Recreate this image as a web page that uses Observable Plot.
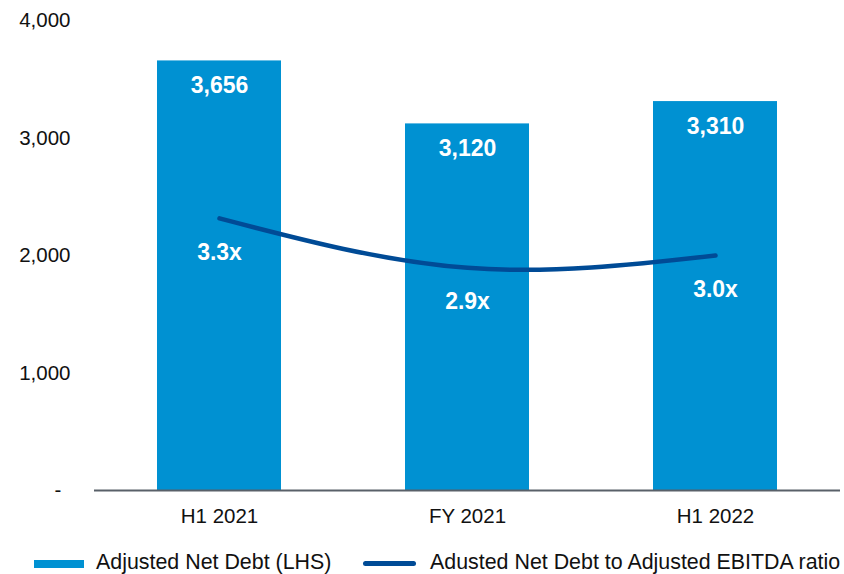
<!DOCTYPE html>
<html>
<head>
<meta charset="utf-8">
<script src="https://cdn.jsdelivr.net/npm/d3@7"></script>
<script src="https://cdn.jsdelivr.net/npm/@observablehq/plot@0.6"></script>
<style>
  body { margin: 0; background: #fff; font-family: "Liberation Sans", Arial, sans-serif; }
  #wrap { position: relative; width: 844px; height: 574px; overflow: hidden; }
  #legend { position: absolute; left: 0; top: 548px; width: 844px; height: 26px; font-size: 21.4px; color: #111; }
  .sw { position: absolute; }
  .lt { position: absolute; top: 2px; white-space: nowrap; }
</style>
</head>
<body>
<div id="wrap">
  <div id="chart"></div>
  <div id="legend">
    <div class="sw" style="left:34px;top:12px;width:50px;height:8px;background:#0091D2"></div>
    <div class="lt" style="left:96px">Adjusted Net Debt (LHS)</div>
    <div class="sw" style="left:363px;top:13px;width:53px;height:5px;border-radius:3px;background:#004B96"></div>
    <div class="lt" style="left:430px">Adusted Net Debt to Adjusted EBITDA ratio</div>
  </div>
</div>
<script>
const categories = ["H1 2021", "FY 2021", "H1 2022"];
const netDebt = [3656, 3120, 3310];
const ratio = [3.3, 2.9, 3.0];
const yTicks = [1000, 2000, 3000, 4000];

// secondary (hidden) ratio axis mapped onto the LHS scale
const ratioToLhs = d3.scaleLinear().domain([1.1, 4.9]).range([0, 4000]);

const bars = categories.map((c, i) => ({cat: c, value: netDebt[i]}));
const line = categories.map((c, i) => ({cat: c, ratio: ratio[i], y: ratioToLhs(ratio[i])}));

const font = `"Liberation Sans", Arial, sans-serif`;

const chart = Plot.plot({
  width: 844,
  height: 540,
  marginLeft: 94,
  marginRight: 4,
  marginTop: 20,
  marginBottom: 50,
  style: {fontFamily: font, fontSize: "20.5px", color: "#111", background: "#fff"},
  x: {domain: categories, paddingInner: 0.5, paddingOuter: 0.25, label: null},
  y: {domain: [0, 4000], label: null},
  marks: [
    Plot.axisY(yTicks, {tickSize: 0, tickPadding: 24, tickFormat: d3.format(","), fontSize: 20.5, label: null}),
    Plot.text([0], {y: d => d, frameAnchor: "left", dx: -40, text: () => "-", fontSize: 20.5, fill: "#111"}),
    Plot.axisX({tickSize: 0, tickPadding: 18, fontSize: 20.5, label: null}),
    Plot.barY(bars, {x: "cat", y: "value", fill: "#0091D2"}),
    Plot.ruleY([0], {stroke: "#596069", strokeWidth: 2}),
    Plot.text(bars, {x: "cat", y: "value", dy: 25, text: d => d3.format(",")(d.value), fill: "#fff", fontWeight: "bold", fontSize: 23}),
    Plot.line(line, {x: "cat", y: "y", curve: "natural", stroke: "#004B96", strokeWidth: 4.5, strokeLinecap: "round"}),
    Plot.text(line, {x: "cat", y: "y", dy: 34, text: d => d.ratio.toFixed(1) + "x", fill: "#fff", fontWeight: "bold", fontSize: 23})
  ]
});
document.getElementById("chart").appendChild(chart);
</script>
</body>
</html>
